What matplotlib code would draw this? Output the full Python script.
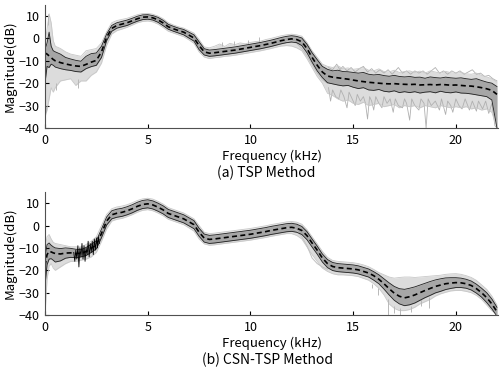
import numpy as np
import matplotlib
matplotlib.use('Agg')
import matplotlib.pyplot as plt

plt.rcParams['font.family'] = ['Noto Sans CJK JP', 'DejaVu Sans']

# frequency grid (kHz): fine near DC, then every 0.25 kHz
freq = np.concatenate([np.arange(0, 0.55, 0.1), np.arange(0.75, 22.01, 0.25)])

# ---- (a) TSP method ----
tsp_mean = [-6.5, -7.0, -7.8, -8.6, -9.4, -10.0,
            -10.8, -11.4, -11.9, -12.3, -12.5, -11.6, -10.6, -9.8,
            -6.0, 0.5, 4.5, 5.8, 6.4, 7.0, 7.9, 8.8, 9.5, 9.6,
            9.2, 8.3, 6.9, 5.2, 4.3, 3.5, 2.8, 1.5, 0.2, -3.2,
            -6.0, -6.6, -6.4, -6.1, -5.8, -5.5, -5.2, -4.8, -4.4, -4.0,
            -3.6, -3.2, -2.7, -2.2, -1.6, -1.0, -0.5, -0.2, -0.5, -1.5,
            -4.5, -8.5, -12.0, -15.0, -16.8, -17.3, -17.6, -17.9, -18.2, -18.6,
            -19.0, -19.3, -19.6, -19.8, -20.0, -20.2, -20.3, -20.2, -20.4, -20.5,
            -20.6, -20.5, -20.8, -20.7, -20.6, -20.8, -20.6, -20.7, -20.9, -20.8,
            -21.0, -21.2, -21.3, -21.6, -22.0, -22.5, -23.2, -25.0]
tsp_up = [-5.0, -2.0, 2.8, -3.5, -5.5, -6.0,
          -7.0, -8.5, -9.2, -9.8, -10.2, -8.0, -6.8, -6.5,
          -3.5, 2.0, 5.8, 7.0, 7.6, 8.2, 9.0, 9.9, 10.5, 10.6,
          10.2, 9.4, 8.1, 6.3, 5.4, 4.6, 4.0, 2.8, 1.6, -1.5,
          -4.6, -5.2, -5.0, -4.7, -4.4, -4.1, -3.8, -3.4, -3.0, -2.6,
          -2.2, -1.8, -1.3, -0.8, -0.2, 0.4, 0.9, 1.2, 0.9, 0.2,
          -2.6, -6.4, -9.5, -12.5, -13.8, -14.5, -14.2, -14.8, -14.9, -15.2,
          -15.5, -15.2, -16.0, -16.3, -16.1, -16.6, -16.9, -16.5, -17.0, -17.2,
          -17.0, -17.4, -17.3, -17.8, -17.2, -17.5, -17.7, -17.3, -17.6, -17.8,
          -17.6, -18.0, -18.3, -18.0, -18.8, -19.5, -20.0, -21.5]
tsp_lo = [-20.0, -12.5, -13.0, -11.5, -12.0, -12.8,
          -13.5, -14.0, -14.3, -14.8, -15.0, -13.5, -12.6, -12.0,
          -8.5, -1.0, 3.2, 4.6, 5.2, 5.8, 6.8, 7.7, 8.4, 8.6,
          8.2, 7.2, 5.7, 4.1, 3.2, 2.4, 1.6, 0.2, -1.2, -5.0,
          -7.4, -8.0, -7.8, -7.5, -7.2, -6.9, -6.6, -6.2, -5.8, -5.4,
          -5.0, -4.6, -4.1, -3.6, -3.0, -2.4, -1.9, -1.6, -1.9, -3.2,
          -6.4, -10.6, -14.5, -17.5, -19.8, -20.3, -20.8, -21.2, -21.0, -21.8,
          -22.4, -22.0, -23.0, -23.2, -22.8, -23.6, -23.9, -23.4, -24.2, -23.8,
          -24.2, -23.8, -24.4, -24.0, -23.8, -24.3, -23.6, -24.1, -24.3, -23.9,
          -24.4, -24.5, -24.8, -25.2, -25.6, -26.0, -27.5, -40.0]
tsp_gray_hi = [-2, 4, 11, 7, -1, -3.5,
               -4.5, -6, -7, -7.5, -8, -5.5, -5, -4.5,
               -2, 3, 7, 8, 8.5, 9, 9.8, 10.6, 11.1, 11.2,
               10.8, 10.0, 8.8, 7.0, 6.0, 5.2, 4.6, 3.5, 2.4, -0.5,
               -3.8, -4.2, -3.5, -2.5, -3.6, -2.2, -2.8, -2.0, -2.4, -1.8,
               -1.4, -1.2, -0.5, 0.0, 0.6, 1.2, 1.6, 1.9, 1.6, 1.0,
               -1.8, -5.5, -8.5, -11.5, -12.5, -13.0, -12.2, -13.5, -13.2, -13.8,
               -13.5, -13.0, -14.2, -14.5, -13.6, -14.8, -15.0, -14.2, -15.2, -14.8,
               -14.5, -15.3, -14.6, -15.5, -14.5, -15.0, -15.6, -14.7, -15.3, -15.6,
               -15.2, -15.8, -16.0, -15.5, -16.5, -17.2, -18.0, -19.5]
tsp_gray_lo = [-35, -32, -27, -22, -24, -22,
               -19, -18.5, -18, -21, -19, -19, -16.5, -15,
               -11, -3, 2, 3.5, 4.2, 5.0, 6.0, 7.0, 7.6, 7.8,
               7.4, 6.4, 4.9, 3.2, 2.4, 1.6, 0.8, -0.6, -2.2, -6,
               -8.3, -9.0, -8.6, -8.4, -8.0, -7.8, -7.5, -7.1, -6.7, -6.3,
               -5.9, -5.5, -5.0, -4.5, -3.9, -3.4, -3.2, -3.4, -4.2, -5.5,
               -9.0, -13.0, -17.0, -20.0, -24.5, -25.5, -27.0, -28.0, -27.5, -29.0,
               -29.5, -28.5, -30.0, -29.5, -29.0, -30.5, -30.0, -29.5, -31.0, -30.0,
               -30.5, -30.0, -31.0, -30.0, -30.5, -31.0, -30.0, -30.5, -31.0, -30.5,
               -31.0, -30.5, -31.5, -31.0, -32.0, -31.5, -33.0, -40.0]
# noisy gray traces above and below the band (high frequencies)
tsp_noise_lo_f = [13.8, 13.9, 14.0, 14.15, 14.3, 14.4, 14.55, 14.7, 14.8, 14.95,
                  15.1, 15.2, 15.35, 15.5, 15.6, 15.7, 15.8, 15.9, 16.0, 16.1,
                  16.25, 16.4, 16.5, 16.65, 16.8, 16.95, 17.05, 17.2, 17.4, 17.5,
                  17.6, 17.75, 17.85, 18.0, 18.2, 18.3, 18.45, 18.55, 18.65, 18.8,
                  19.0, 19.2, 19.3, 19.5, 19.6, 19.75, 19.85, 20.0, 20.15, 20.3,
                  20.45, 20.66, 20.8, 21.0, 21.1, 21.3, 21.45, 21.6, 21.75, 21.9, 22.0]
tsp_noise_lo_db = [-22, -28, -23, -26, -27, -23, -26, -31, -24, -27,
                   -30, -25, -28, -26, -29, -36, -26, -28, -32, -26,
                   -29, -31, -26, -29, -27, -33, -27, -30, -31, -27,
                   -29, -36.5, -27, -30, -32, -27, -29, -40, -27, -30,
                   -28, -32, -27, -34, -28, -30, -33, -27, -30, -31.5,
                   -27, -32, -28, -32.5, -28, -31.5, -28, -33.5, -29, -39, -40]
tsp_noise_hi_f = [13.8, 14.0, 14.2, 14.35, 14.5, 14.7, 14.9, 15.1, 15.3, 15.5,
                  15.7, 15.9, 16.1, 16.3, 16.5, 16.7, 16.9, 17.05, 17.2, 17.4,
                  17.6, 17.8, 18.0, 18.2, 18.4, 18.6, 18.8, 19.0, 19.2, 19.4,
                  19.6, 19.8, 20.0, 20.2, 20.4, 20.6, 20.8, 21.0, 21.2, 21.4,
                  21.6, 21.8, 22.0]
tsp_noise_hi_db = [-13, -14, -11.5, -14, -12.5, -14.5, -13, -15, -13.5, -12.5,
                   -15, -13.5, -15.5, -14, -15.5, -14, -16, -14.5, -13, -15.5,
                   -14.5, -16, -14.5, -15.5, -14.5, -16, -14.5, -13, -15.5, -14.5,
                   -16, -14.5, -15.5, -14.5, -16, -15, -14, -16, -15.5, -17,
                   -16.5, -18, -19]
tsp_spike_f = [0.05, 0.15, 0.55, 1.6, 8.6, 9.2, 9.9, 10.4]
tsp_spike_y0 = [-30, 6, -20, -18, -3.5, -3, -2.5, -1.5]
tsp_spike_y1 = [-33, 11, -23, -22, -1.5, -1.0, -0.5, 0.5]
tsp_drop_f = [11.75, 12.0, 12.25, 12.5, 12.75, 13.0, 13.25, 13.5, 13.75]
tsp_drop_db = [-1.5, -1.0, -2.2, -4.5, -7.8, -11.5, -15.5, -18.5, -20.0]

# ---- (b) CSN-TSP method ----
csn_mean = [-18.0, -13.0, -11.5, -11.8, -12.2, -12.5,
            -12.7, -12.3, -12.2, -12.5, -12.4, -11.6, -10.2, -8.6,
            -3.5, 2.0, 4.8, 5.5, 5.9, 6.6, 7.5, 8.6, 9.4, 9.7,
            9.2, 8.2, 7.0, 5.4, 4.6, 3.8, 3.0, 1.7, 0.4, -3.0,
            -5.6, -6.2, -6.0, -5.7, -5.4, -5.1, -4.8, -4.5, -4.2, -3.9,
            -3.5, -3.1, -2.7, -2.2, -1.8, -1.4, -1.0, -0.8, -1.2, -2.2,
            -4.5, -7.8, -11.0, -14.5, -17.0, -18.3, -18.8, -19.0, -19.2, -19.4,
            -19.8, -20.5, -21.2, -22.4, -24.0, -26.0, -28.2, -30.2, -31.6, -32.3,
            -31.8, -31.0, -30.0, -29.0, -28.1, -27.2, -26.6, -26.0, -25.7, -25.5,
            -25.6, -26.0, -26.8, -28.2, -30.0, -32.2, -35.0, -38.5]
csn_up = [-14.0, -8.5, -7.8, -8.8, -9.5, -10.0,
          -10.3, -10.0, -10.2, -10.6, -10.8, -9.8, -8.4, -6.8,
          -1.6, 3.8, 6.6, 7.3, 7.7, 8.4, 9.3, 10.4, 11.2, 11.5,
          11.0, 10.0, 8.8, 7.2, 6.4, 5.6, 4.8, 3.5, 2.2, -1.2,
          -3.8, -4.4, -4.2, -3.9, -3.6, -3.3, -3.0, -2.7, -2.4, -2.1,
          -1.7, -1.3, -0.9, -0.4, 0.0, 0.4, 0.8, 1.0, 0.6, -0.4,
          -2.7, -6.0, -9.2, -12.7, -15.2, -16.5, -17.0, -17.2, -17.4, -17.6,
          -18.0, -18.7, -19.4, -20.6, -22.0, -23.8, -25.6, -27.2, -28.2, -28.5,
          -28.0, -27.4, -26.6, -25.8, -25.0, -24.3, -23.8, -23.4, -23.3, -23.3,
          -23.5, -24.0, -24.8, -26.2, -28.0, -30.0, -32.8, -36.5]
csn_lo = [-27.0, -17.5, -15.0, -14.8, -15.5, -16.3,
          -15.8, -14.6, -14.2, -14.4, -14.0, -13.4, -12.0, -10.4,
          -5.4, 0.2, 3.0, 3.7, 4.1, 4.8, 5.7, 6.8, 7.6, 7.9,
          7.4, 6.4, 5.2, 3.6, 2.8, 2.0, 1.2, -0.1, -1.4, -4.8,
          -7.4, -8.0, -7.8, -7.5, -7.2, -6.9, -6.6, -6.3, -6.0, -5.7,
          -5.3, -4.9, -4.5, -4.0, -3.6, -3.2, -2.8, -2.6, -3.0, -4.0,
          -6.3, -9.6, -12.8, -16.3, -18.8, -20.1, -20.6, -20.8, -21.0, -21.2,
          -21.6, -22.3, -23.0, -24.4, -26.0, -28.4, -31.0, -33.4, -35.0, -35.8,
          -35.4, -34.6, -33.4, -32.2, -31.2, -30.1, -29.4, -28.6, -28.1, -27.7,
          -27.7, -28.0, -28.8, -30.2, -32.0, -34.4, -37.2, -40.5]
csn_gray_hi = [-10, -5, -4, -6, -7.5, -8,
               -8.5, -9, -9.5, -9.5, -9.5, -8.5, -7, -5,
               0, 5, 7.5, 8.3, 8.7, 9.3, 10.2, 11.2, 11.9, 12.2,
               11.8, 10.8, 9.6, 8.0, 7.2, 6.4, 5.6, 4.3, 3.0, 0,
               -3.0, -3.6, -3.4, -3.1, -2.8, -2.5, -2.2, -1.9, -1.6, -1.3,
               -0.9, -0.5, -0.1, 0.4, 0.8, 1.2, 1.6, 1.8, 1.5, 0.6,
               -1.8, -5.0, -8.2, -11.5, -14.2, -15.6, -16.0, -16.2, -16.4, -16.6,
               -17.0, -17.6, -18.4, -19.6, -21.0, -22.0, -23.0, -23.5, -23.2, -23.0,
               -23.0, -23.2, -23.0, -22.8, -22.6, -22.4, -22.2, -21.8, -21.6, -21.5,
               -21.8, -22.4, -23.2, -24.5, -26.5, -28.5, -31.5, -35.5]
csn_gray_lo = [-40, -24, -18, -17, -19, -20,
               -18.5, -17, -16, -16, -15.5, -15, -14, -12,
               -7, -1.5, 2, 2.8, 3.2, 4.0, 4.9, 6.0, 6.8, 7.1,
               6.6, 5.6, 4.4, 2.8, 2.0, 1.2, 0.4, -1.0, -2.5, -6,
               -8.2, -8.8, -8.6, -8.3, -8.0, -7.7, -7.4, -7.1, -6.8, -6.5,
               -6.1, -5.7, -5.3, -4.8, -4.4, -4.0, -3.6, -3.6, -4.4, -6.0,
               -9.5, -13.0, -16.0, -19.0, -20.5, -21.5, -22.0, -22.0, -22.2, -22.4,
               -22.8, -23.6, -24.4, -26.0, -28.0, -31.0, -35.0, -37.0, -38.0, -38.0,
               -37.5, -36.5, -35.0, -34.0, -33.0, -31.5, -30.5, -29.8, -29.2, -29.0,
               -29.0, -29.4, -30.0, -31.2, -33.0, -35.5, -38.0, -40.0]
csn_spike_f = [15.9, 16.2, 16.7, 17.0, 17.3, 17.8, 18.3, 18.7]
csn_spike_y0 = [-26, -28, -33, -36, -37, -36, -33, -32]
csn_spike_y1 = [-28, -31, -40, -39, -40, -38.5, -36, -37]
# black jagged trace between 1.4 and 2.7 kHz
csn_jit_f = [1.40, 1.45, 1.50, 1.55, 1.60, 1.65, 1.70, 1.75, 1.80, 1.85, 1.90, 1.95, 2.00,
             2.05, 2.10, 2.15, 2.20, 2.25, 2.30, 2.35, 2.40, 2.45, 2.50, 2.55, 2.60, 2.65]
csn_jit_db = [-12, -16, -11, -15, -9, -18.5, -10, -14, -8, -15, -9, -16, -10,
              -13, -7, -14, -8, -12, -7, -13, -6, -11, -5.5, -10, -5, -8]
csn_drop_f = [11.75, 12.0, 12.25, 12.5, 12.75, 13.0, 13.25, 13.5, 13.75]
csn_drop_db = [-1.2, -1.0, -2.2, -5.0, -9.0, -14.5, -17.0, -18.5, -19.5]

xticks = [0, 5, 10, 15, 20]
yticks = [-40, -30, -20, -10, 0, 10]

fig = plt.figure(figsize=(5, 3.72), dpi=100)
ax1 = fig.add_axes([0.09, 0.656, 0.906, 0.331])
ax2 = fig.add_axes([0.09, 0.153, 0.906, 0.331])


def draw(ax, mean, up, lo, ghi, glo, sf, s0, s1, df, ddb):
    ax.fill_between(freq, glo, ghi, color='#dcdcdc', lw=0)
    ax.plot(freq, ghi, color='#c8c8c8', lw=0.6)
    ax.plot(freq, glo, color='#c8c8c8', lw=0.6)
    ax.vlines(sf, s0, s1, color='#b8b8b8', lw=0.7)
    ax.plot(df, ddb, color='#c0c0c0', lw=0.7)
    ax.fill_between(freq, lo, up, color='#a6a6a6', lw=0)
    ax.plot(freq, up, color='#202020', lw=0.6)
    ax.plot(freq, lo, color='#202020', lw=0.6)
    ax.plot(freq, mean, color='black', lw=1.2, ls=(0, (3, 2)))
    ax.set_xlim(0, 22.05)
    ax.set_ylim(-40, 15)
    ax.set_xticks(xticks)
    ax.set_yticks(yticks)
    ax.tick_params(direction='in', length=3, labelsize=9, pad=4)
    for s in ['top', 'right']:
        ax.spines[s].set_visible(False)
    for s in ['left', 'bottom']:
        ax.spines[s].set_color('#505050')
    ax.set_ylabel('Magnitude(dB)', fontsize=9.5, labelpad=1)
    ax.set_xlabel('Frequency (kHz)', fontsize=9.5, labelpad=2)


draw(ax1, tsp_mean, tsp_up, tsp_lo, tsp_gray_hi, tsp_gray_lo,
     tsp_spike_f, tsp_spike_y0, tsp_spike_y1, tsp_drop_f, tsp_drop_db)
ax1.plot(tsp_noise_lo_f, tsp_noise_lo_db, color='#b0b0b0', lw=0.6, zorder=1.5)
ax1.plot(tsp_noise_hi_f, tsp_noise_hi_db, color='#b0b0b0', lw=0.6, zorder=1.5)
draw(ax2, csn_mean, csn_up, csn_lo, csn_gray_hi, csn_gray_lo,
     csn_spike_f, csn_spike_y0, csn_spike_y1, csn_drop_f, csn_drop_db)
ax2.plot(csn_jit_f, csn_jit_db, color='black', lw=0.6)

fig.text(0.532, 1 - 173 / 372, '(a) TSP Method', ha='center', va='center', fontsize=10)
fig.text(0.536, 1 - 360 / 372, '(b) CSN-TSP Method', ha='center', va='center', fontsize=10)

fig.savefig('out.png', dpi=100)
